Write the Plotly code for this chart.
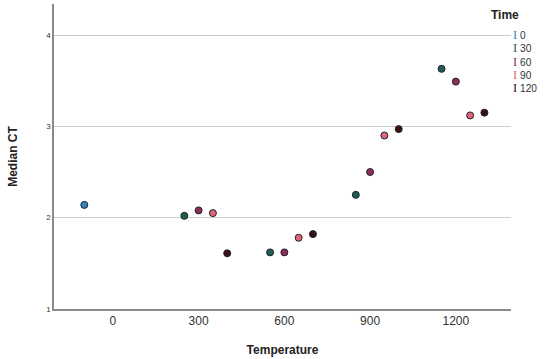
import plotly.graph_objects as go

# Data (x = dodged temperature position)
times = ["0", "30", "60", "90", "120"]
colors = ["#2e86c1", "#1b5e57", "#8c2d5a", "#e0677a", "#3b0f19"]
temp_x = {
    "0":   [-100],
    "30":  [250, 550, 850, 1150],
    "60":  [300, 600, 900, 1200],
    "90":  [350, 650, 950, 1250],
    "120": [400, 700, 1000, 1300],
}
median_ct = {
    "0":   [2.14],
    "30":  [2.02, 1.62, 2.25, 3.63],
    "60":  [2.08, 1.62, 2.50, 3.49],
    "90":  [2.05, 1.78, 2.90, 3.12],
    "120": [1.61, 1.82, 2.97, 3.15],
}
x_ticks = [0, 300, 600, 900, 1200]
y_ticks = [1, 2, 3, 4]

fig = go.Figure()
for t, c in zip(times, colors):
    fig.add_trace(go.Scatter(
        x=temp_x[t], y=median_ct[t], mode="markers", name=t,
        marker=dict(color=c, size=7, line=dict(color="#222222", width=1)),
        showlegend=False,
    ))

fig.update_layout(
    width=550, height=359,
    margin=dict(l=54, r=39, t=4, b=50, autoexpand=False),
    paper_bgcolor="white", plot_bgcolor="white",
    font=dict(family="Arial, Liberation Sans, sans-serif", color="#222222"),
    xaxis=dict(
        range=[-206, 1393], tickvals=x_ticks, ticktext=[str(v) for v in x_ticks],
        showgrid=False, zeroline=False, showline=True, linecolor="#8a8a8a", linewidth=1.5,
        ticks="", tickfont=dict(size=12, color="#333333"), automargin=False,
        title=dict(text="<b>Temperature</b>", font=dict(size=12), standoff=18),
    ),
    yaxis=dict(
        range=[1, 4.34], tickvals=y_ticks, ticktext=[str(v) for v in y_ticks],
        showgrid=True, gridcolor="#cccccc", gridwidth=1.3, zeroline=False,
        showline=True, linecolor="#8a8a8a", linewidth=1.5, automargin=False,
        ticks="", tickfont=dict(size=8, color="#333333"),
        title=dict(text="<b>Median CT</b>", font=dict(size=12), standoff=26),
    ),
)

# Legend drawn as text (SPSS-style "I" markers)
fig.add_annotation(xref="paper", yref="paper", x=(489 - 54) / 457, y=(309 - 15) / 305,
                   text="<b>Time</b>", showarrow=False, xanchor="left", yanchor="middle",
                   font=dict(size=12, color="#222222"))
legend_lines = [
    f"<span style='color:{c};font-family:Liberation Serif, serif;font-size:12.5px'>I</span> {t}"
    for t, c in zip(times, colors)
]
fig.add_annotation(xref="paper", yref="paper", x=(511 - 54) / 457, y=(309 - 61.5) / 305,
                   text="<br>".join(legend_lines), showarrow=False, align="left",
                   xanchor="left", yanchor="middle",
                   font=dict(size=10.2, color="#333333"))

fig.write_html("out.html", config={"displayModeBar": False},
               post_script="document.body.style.margin='0';")
